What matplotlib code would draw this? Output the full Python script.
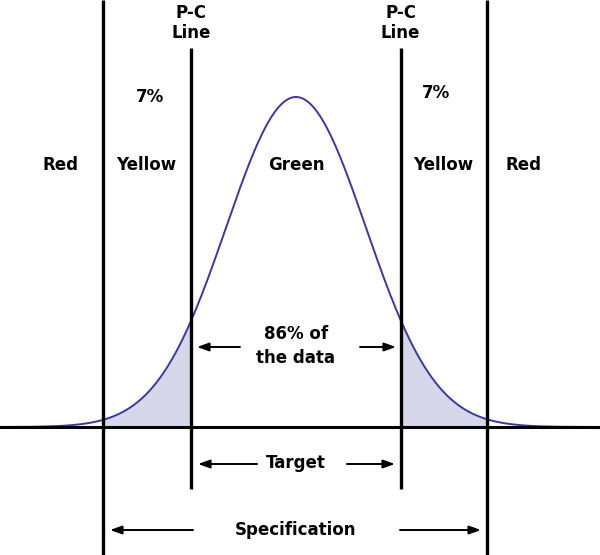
import numpy as np
import matplotlib
matplotlib.use("Agg")
import matplotlib.pyplot as plt

# Data (in standard-deviation units)
mean = 0.0
sigma = 1.0
pc_lines = [-1.5, 1.5]          # pre-control lines
spec_lines = [-2.77, 2.74]      # specification limits
zone_labels = ["Red", "Yellow", "Green", "Yellow", "Red"]
zone_centers = [-3.38, -2.15, 0.0, 2.11, 3.27]
tail_pct = ["7%", "7%"]
center_pct = ["86% of", "the data"]

plt.rcParams['font.family'] = ['DejaVu Sans']

fig = plt.figure(figsize=(6.0, 5.55), dpi=100)
ax = fig.add_axes([0, 0, 1, 1])
PXS = 69.7   # px per sigma
X0 = 296     # px of mean
BASE = 427   # px of baseline
PEAK = 330   # px height of peak
ax.set_xlim(-X0 / PXS, (600 - X0) / PXS)
ax.set_ylim(-(555 - BASE) / PEAK, BASE / PEAK)
ax.axis('off')

def px(x):
    return (x - X0) / PXS

def py(y):
    return (BASE - y) / PEAK

curve_col = '#3a3a9c'
fill_col = '#d6d7eb'

z = np.linspace(-4.3, 4.4, 800)
h = np.exp(-0.5 * ((z - mean) / sigma) ** 2)

# shaded tails
mL = (z >= spec_lines[0]) & (z <= pc_lines[0])
mR = (z >= pc_lines[1]) & (z <= spec_lines[1])
ax.fill_between(z[mL], 0, h[mL], color=fill_col, lw=0)
ax.fill_between(z[mR], 0, h[mR], color=fill_col, lw=0)
ax.plot(z, h, color=curve_col, lw=1.4, zorder=3)

# baseline
ax.axhline(0, color='black', lw=2.2, zorder=4)
# spec lines full height
for s in spec_lines:
    ax.plot([s, s], [py(0), py(555)], color='black', lw=2.4, zorder=4, solid_capstyle='butt')
# pc lines
for p in pc_lines:
    ax.plot([p, p], [py(48), py(489)], color='black', lw=2.4, zorder=4, solid_capstyle='butt')

tk = dict(ha='center', va='center', fontsize=12, fontweight='bold', color='black')

for p in pc_lines:
    ax.text(p, py(13), "P-C", **tk)
    ax.text(p, py(33), "Line", **tk)

ax.text(px(150), py(97), tail_pct[0], **tk)
ax.text(px(436), py(93), tail_pct[1], **tk)

for lab, c in zip(zone_labels, zone_centers):
    ax.text(c, py(165), lab, **tk)

ax.text(0, py(334), center_pct[0], **tk)
ax.text(0, py(358), center_pct[1], **tk)

ap = dict(arrowstyle='-|>,head_length=0.7,head_width=0.25', color='black', lw=1.4,
          shrinkA=0, shrinkB=0)

def arrow(x1, x2, y):
    ax.annotate('', xy=(px(x2), py(y)), xytext=(px(x1), py(y)), arrowprops=ap)

arrow(240, 197, 347)
arrow(360, 396, 347)
ax.text(0, py(463), "Target", **tk)
arrow(257, 198, 464)
arrow(347, 395, 464)
ax.text(0, py(530), "Specification", **tk)
arrow(193, 110, 530)
arrow(400, 481, 530)

fig.savefig("out.png", dpi=100)
